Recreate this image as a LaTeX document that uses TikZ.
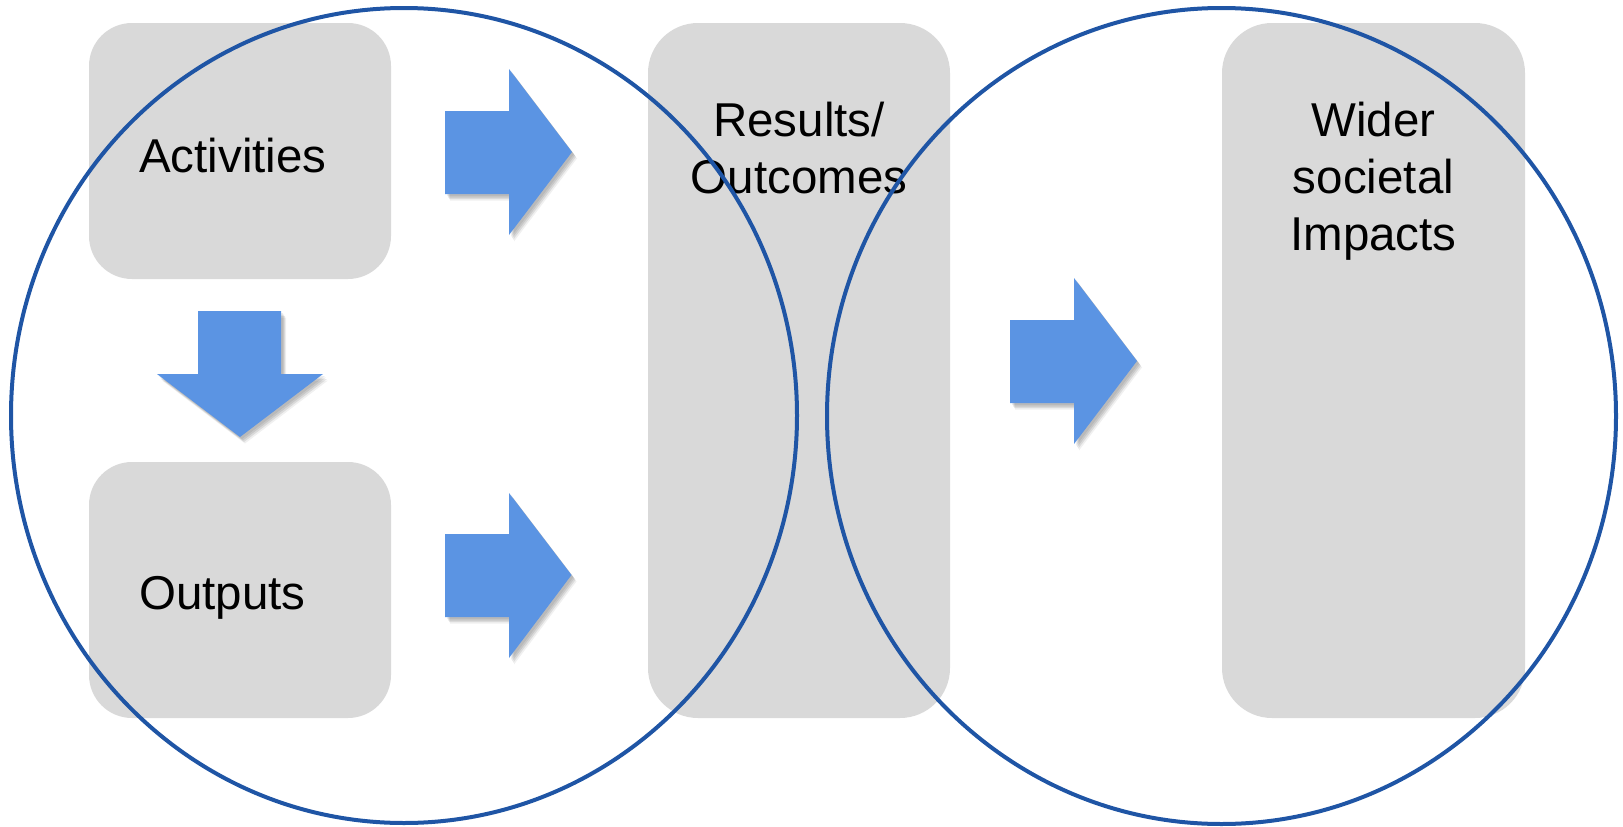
\documentclass[tikz,border=0pt]{standalone}
\usepackage{fontspec}
\setmainfont{Liberation Sans}
\definecolor{boxgray}{RGB}{217,217,217}
\definecolor{arrowblue}{RGB}{91,148,227}
\definecolor{ringblue}{RGB}{31,85,165}
\begin{document}
\begin{tikzpicture}[x=1pt,y=-1pt,
  box/.style={fill=boxgray, draw=none, inner sep=0pt, outer sep=0pt},
  blockarrow/.style={fill=arrowblue,
    preaction={fill=black, opacity=0.07, transform canvas={shift={(2pt,-2pt)}}},
    preaction={fill=black, opacity=0.09, transform canvas={shift={(3pt,-3.5pt)}}},
    preaction={fill=black, opacity=0.09, transform canvas={shift={(4pt,-5pt)}}},
    preaction={fill=black, opacity=0.06, transform canvas={shift={(5pt,-6.5pt)}}}},
  ring/.style={draw=ringblue, line width=4pt},
  lbl/.style={font=\fontsize{47.5}{57}\selectfont, inner sep=0pt, text=black}]
\useasboundingbox (0,0) rectangle (1623,827);
% boxes
\node[box, minimum width=302pt, minimum height=256pt, rounded corners=43pt] (act) at (240,151) {};
\node[box, minimum width=302pt, minimum height=256pt, rounded corners=43pt] (out) at (240,590) {};
\node[box, minimum width=302pt, minimum height=695pt, rounded corners=50pt] (res) at (799,370.5) {};
\node[box, minimum width=303pt, minimum height=695pt, rounded corners=50pt] (wid) at (1373.5,370.5) {};
% block arrows
\path[blockarrow] (445,111) -- (509,111) -- (509,69) -- (572,152) -- (509,235) -- (509,194) -- (445,194) -- cycle;
\path[blockarrow] (445,534) -- (509,534) -- (509,493) -- (571.5,575) -- (509,658) -- (509,617) -- (445,617) -- cycle;
\path[blockarrow] (1010,320) -- (1074,320) -- (1074,278) -- (1137,361) -- (1074,444) -- (1074,403) -- (1010,403) -- cycle;
\path[blockarrow] (198,311) -- (281,311) -- (281,374) -- (323,374) -- (240,437) -- (157,374) -- (198,374) -- cycle;
% labels
\node[lbl, anchor=base west] (actT) at (139,172) {Activities};
\node[lbl, anchor=base west] (outT) at (139,609) {Outputs};
\node[lbl, align=center, anchor=base] (resT) at (799,193.3) {Results/\\Outcomes};
\node[lbl, align=center, anchor=base] (widT) at (1373.5,250) {Wider\\societal\\Impacts};
% rings
\draw[ring] (404,415.5) ellipse [x radius=393pt, y radius=407.5pt];
\draw[ring] (1221.5,416) ellipse [x radius=394.5pt, y radius=408pt];
\end{tikzpicture}
\end{document}
